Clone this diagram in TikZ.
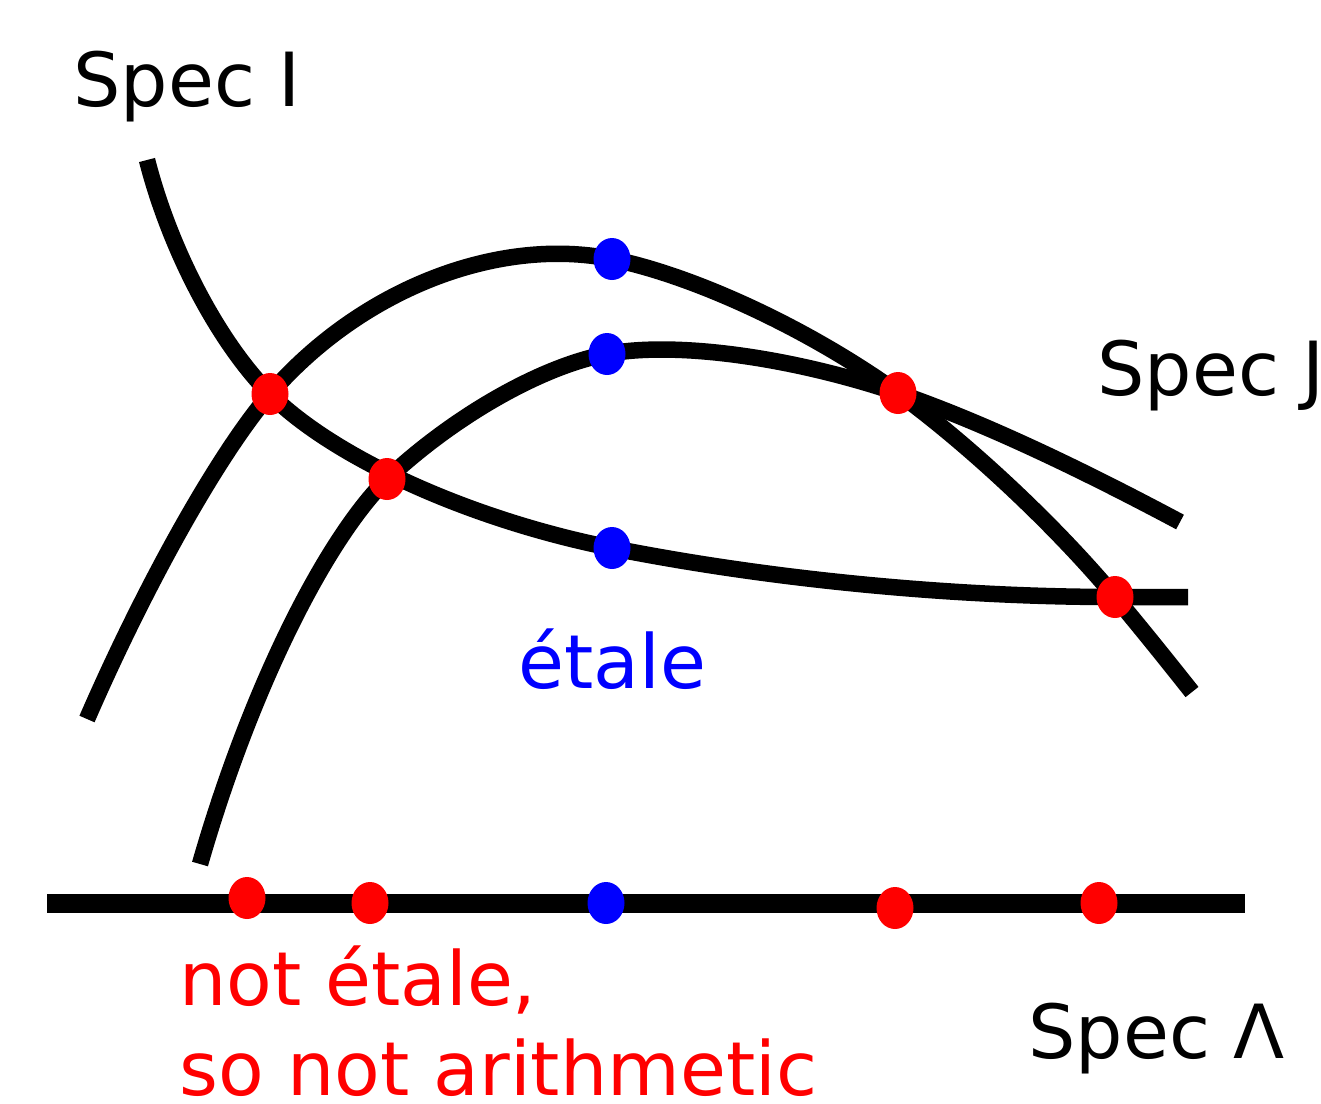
\documentclass[tikz,border=0pt]{standalone}
\usepackage{fontspec}
\setmainfont{DejaVu Sans}
\usetikzlibrary{shapes.geometric}
\begin{document}
\begin{tikzpicture}[x=0.02cm,y=-0.02cm,
  curve/.style={line width=16.5*0.02cm, black},
  axis/.style={line width=19*0.02cm, black},
  rdot/.style={fill=red, draw=none, minimum width=37*0.02cm, minimum height=42*0.02cm, inner sep=0pt, shape=ellipse},
  bdot/.style={fill=blue, draw=none, minimum width=37*0.02cm, minimum height=42*0.02cm, inner sep=0pt, shape=ellipse},
  lbl/.style={anchor=base west, inner sep=0pt, font=\fontsize{42.5}{51}\selectfont}]
\useasboundingbox (0,0) rectangle (1321,1103);
% named points
\coordinate (r1) at (270,394);
\coordinate (r2) at (387,479);
\coordinate (r3) at (898,393);
\coordinate (r4) at (1115,597);
\coordinate (b1) at (612,259);
\coordinate (b2) at (607,354);
\coordinate (b3) at (612,548);
% Spec I curve
\coordinate (I0) at (147,160);
\coordinate (I1) at (1188,597);
\draw[curve] (I0) .. controls (170,250) and (219,343) .. (r1)
  .. controls (334,458) and (471,520) .. (b3)
  .. controls (768,579) and (950,597) .. (r4) -- (I1);
% upper arch
\coordinate (U0) at (87,719);
\coordinate (U1) at (1192,692);
\draw[curve] (U0) .. controls (147,581) and (220,452) .. (r1)
  .. controls (360,290) and (497,236) .. (b1)
  .. controls (695,276) and (809,329) .. (r3)
  .. controls (968,444) and (1055,525) .. (r4)
  .. controls (1145,633) and (1165,658) .. (U1);
% lower arch
\coordinate (W0) at (200,864);
\coordinate (W1) at (1180,522);
\draw[curve] (W0) .. controls (250,690) and (325,540) .. (r2)
  .. controls (454,416) and (542,366) .. (b2)
  .. controls (675,341) and (791,357) .. (r3)
  .. controls (988,424) and (1090,474) .. (W1);
% Spec Lambda line
\coordinate (L0) at (47,903);
\coordinate (L1) at (1245,903);
\draw[axis] (L0) -- (L1);
% dots on curves
\node[rdot] (dr1) at (r1) {};
\node[rdot] (dr2) at (r2) {};
\node[rdot] (dr3) at (r3) {};
\node[rdot] (dr4) at (r4) {};
\node[bdot] (db1) at (b1) {};
\node[bdot] (db2) at (b2) {};
\node[bdot] (db3) at (b3) {};
% dots on base line
\node[rdot] (s1) at (247,898) {};
\node[rdot] (s2) at (370,903) {};
\node[bdot] (s3) at (606,903) {};
\node[rdot] (s4) at (895,908) {};
\node[rdot] (s5) at (1099,903) {};
% labels
\node[lbl] (tI) at (73,106) {Spec I};
\node[lbl] (tJ) at (1097,395) {Spec J};
\node[lbl, text=blue] (tet) at (518,688) {étale};
\node[lbl, text=red] (tn1) at (179,1005) {not étale,};
\node[lbl, text=red] (tn2) at (179,1095) {so not arithmetic};
\node[lbl] (tL) at (1028,1058) {Spec Λ};
\end{tikzpicture}
\end{document}
